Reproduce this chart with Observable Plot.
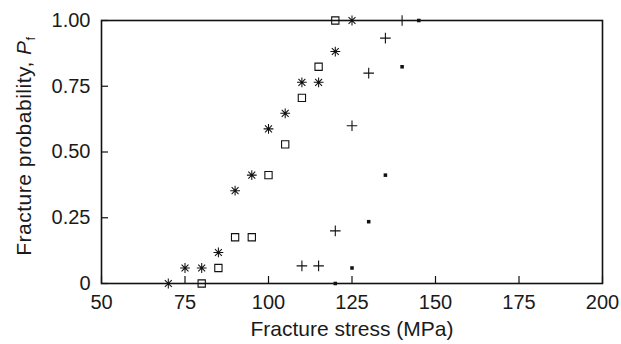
<!DOCTYPE html>
<html><head><meta charset="utf-8">
<script src="https://cdn.jsdelivr.net/npm/d3@7"></script>
<script src="https://cdn.jsdelivr.net/npm/@observablehq/plot@0.6"></script>
<style>
body{margin:0;background:#fff;}
#chart svg{font-family:"Liberation Sans",Arial,sans-serif;}
</style>
</head><body><div id="chart"></div>
<script>
const xTicks = [50, 75, 100, 125, 150, 175, 200];
const yTicks = [0, 0.25, 0.5, 0.75, 1];
const yTickLabels = ["0", "0.25", "0.50", "0.75", "1.00"];
const xLabel = "Fracture stress (MPa)";

// Series 1: asterisks
const stressAst = [70, 75, 80, 85, 90, 95, 100, 105, 110, 115, 120, 125];
const probAst   = [0, 0.059, 0.059, 0.118, 0.353, 0.412, 0.588, 0.647, 0.765, 0.765, 0.882, 1.0];
// Series 2: open squares
const stressSq = [80, 85, 90, 95, 100, 105, 110, 115, 120];
const probSq   = [0, 0.059, 0.176, 0.176, 0.412, 0.529, 0.706, 0.824, 1.0];
// Series 3: pluses
const stressPl = [110, 115, 120, 125, 130, 135, 140];
const probPl   = [0.067, 0.067, 0.2, 0.6, 0.8, 0.933, 1.0];
// Series 4: small filled squares
const stressFs = [120, 125, 130, 135, 140, 145];
const probFs   = [0, 0.059, 0.235, 0.412, 0.824, 1.0];

const toRows = (xs, ys) => xs.map((x, i) => ({x, y: ys[i]}));

const star8 = {
  draw(context, size) {
    const r = Math.sqrt(size) * 0.6;
    const d = r * Math.SQRT1_2;
    context.moveTo(-r, 0); context.lineTo(r, 0);
    context.moveTo(0, -r); context.lineTo(0, r);
    context.moveTo(-d, -d); context.lineTo(d, d);
    context.moveTo(-d, d); context.lineTo(d, -d);
  }
};

const fs = 20;
const chart = Plot.plot({
  width: 621,
  height: 344,
  marginLeft: 101,
  marginRight: 19,
  marginTop: 20,
  marginBottom: 61,
  style: {background: "#fff", color: "#1a1a1a", fontSize: fs + "px"},
  x: {domain: [50, 200]},
  y: {domain: [0, 1]},
  marks: [
    Plot.axisX({ticks: xTicks, tickSize: -7, tickPadding: 18, fontSize: fs, label: null, stroke: "#111", strokeWidth: 1.2}),
    Plot.axisY({ticks: yTicks, tickFormat: d => yTickLabels[yTicks.indexOf(d)], tickSize: -7, tickPadding: 18, fontSize: fs, label: null, stroke: "#111", strokeWidth: 1.2}),
    Plot.frame({stroke: "#111", strokeWidth: 1.6}),
    Plot.dot(toRows(stressAst, probAst), {x: "x", y: "y", symbol: star8, r: 4.6, stroke: "#111", strokeWidth: 1.05, fill: "none"}),
    Plot.dot(toRows(stressSq, probSq), {x: "x", y: "y", symbol: "square", r: 4.1, stroke: "#111", strokeWidth: 1.1, fill: "none"}),
    Plot.dot(toRows(stressPl, probPl), {x: "x", y: "y", symbol: "plus", r: 3.5, stroke: "#111", strokeWidth: 1.1, fill: "none"}),
    Plot.dot(toRows(stressFs, probFs), {x: "x", y: "y", symbol: "square", r: 2, fill: "#111", stroke: "none"}),
    Plot.text([xLabel], {frameAnchor: "bottom", text: d => d, dy: 52, fontSize: 21, fill: "#1a1a1a", lineAnchor: "bottom"})
  ]
});

const svg = d3.select(chart);
const t = svg.append("text")
  .attr("transform", "translate(31,146) rotate(-90)")
  .attr("text-anchor", "middle")
  .attr("font-size", 21)
  .attr("letter-spacing", 0.5)
  .attr("fill", "#1a1a1a");
t.append("tspan").text("Fracture probability, ");
t.append("tspan").attr("font-style", "italic").text("P");
t.append("tspan").attr("font-size", 13).attr("dy", 4).text("f");

document.getElementById("chart").appendChild(chart);
</script>
</body></html>
